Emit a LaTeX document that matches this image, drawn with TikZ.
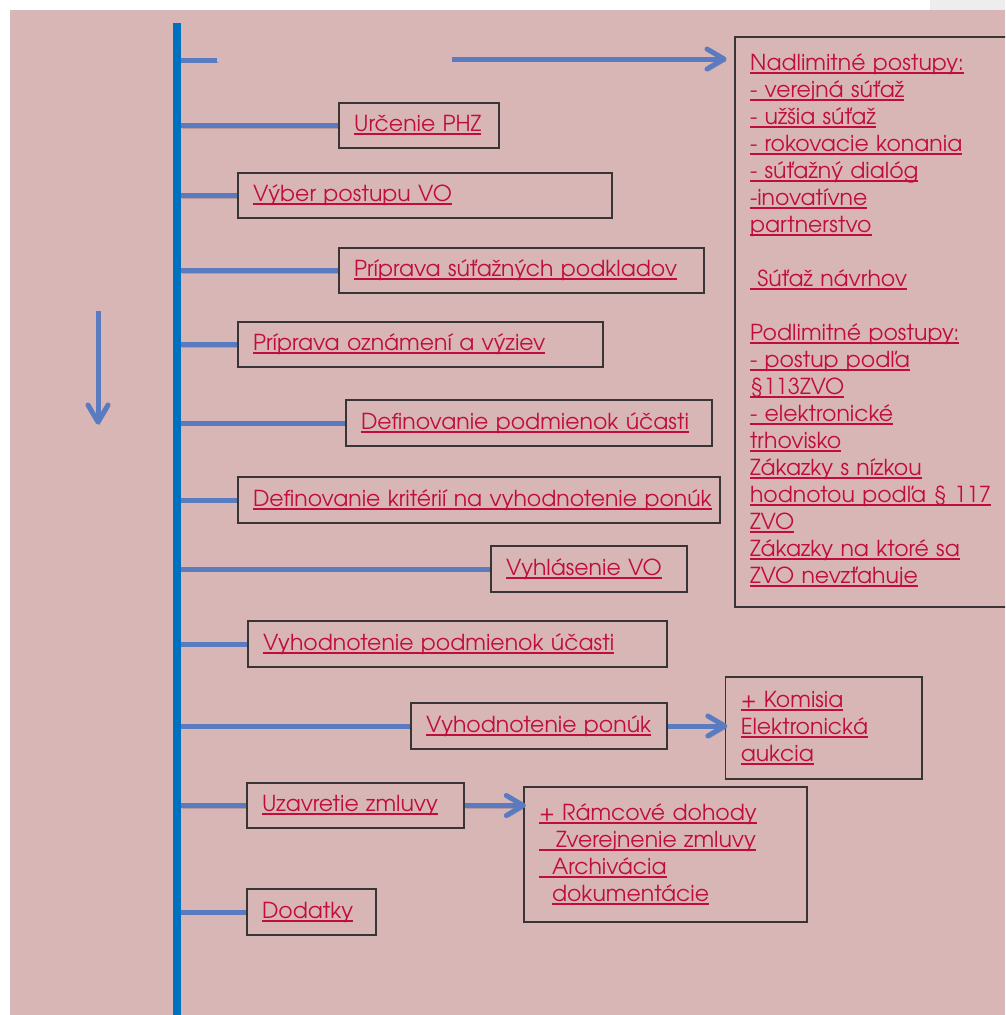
\documentclass[tikz,border=0pt]{standalone}
\usepackage{fontspec}
\setmainfont{TeX Gyre Adventor}
\definecolor{bgpink}{HTML}{D9B6B6}
\definecolor{spineblue}{HTML}{0070C0}
\definecolor{branchblue}{HTML}{5A7BBF}
\definecolor{txtred}{HTML}{C00D3E}
\definecolor{boxline}{HTML}{3A3535}
\newsavebox\ulinebox
\newcommand\ulin[1]{\leavevmode\sbox\ulinebox{#1}\rlap{\rule[-3.5pt]{\wd\ulinebox}{2pt}}\usebox\ulinebox}
\begin{document}
\begin{tikzpicture}[x=1pt,y=-1pt,
  box/.style={draw=boxline, line width=1.3pt, inner xsep=15pt, inner ysep=0pt, align=left,
    text=txtred, font=\fontsize{22}{27}\selectfont},
  shadowed/.style={preaction={draw=black, draw opacity=0.15, transform canvas={shift={(1.5pt,-2.5pt)}}}},
  branch/.style={draw=branchblue, line width=5pt, shadowed},
  chev/.style={draw=branchblue, line width=5pt, line join=round, line cap=round, shadowed}]
\clip (0,0) rectangle (1005,1015);
\fill[white] (0,0) rectangle (1005,1015);
\fill[black!7] (930,0) rectangle (1005,13);
\fill[bgpink] (10,10) rectangle (1005,1015);
% spine
\coordinate (sp1) at (176.5,23);
\coordinate (sp2) at (176.5,1015);
\draw[spineblue, line width=8pt] (sp1) -- (sp2);
% boxes
\node[box, minimum width=160pt, minimum height=45pt, text width=130pt] (A) at (419,125.5) {\ulin{Určenie PHZ}};
\node[box, minimum width=374pt, minimum height=45pt, text width=344pt] (B) at (425,195.5) {\ulin{Výber postupu VO}};
\node[box, minimum width=365pt, minimum height=45pt, text width=335pt] (C) at (521.5,270.5) {\ulin{Príprava súťažných podkladov}};
\node[box, minimum width=365pt, minimum height=45pt, text width=335pt] (D) at (420.5,344.5) {\ulin{Príprava oznámení a výziev}};
\node[box, minimum width=366pt, minimum height=46pt, text width=336pt] (E) at (529,423) {\ulin{Definovanie podmienok účasti}};
\node[box, minimum width=482pt, minimum height=46pt, text width=452pt] (F) at (479,500) {\ulin{Definovanie kritérií na vyhodnotenie ponúk}};
\node[box, minimum width=196pt, minimum height=46pt, text width=166pt] (G) at (589,569) {\ulin{Vyhlásenie VO}};
\node[box, minimum width=419pt, minimum height=46pt, text width=389pt] (H) at (457.5,644) {\ulin{Vyhodnotenie podmienok účasti}};
\node[box, minimum width=256pt, minimum height=46pt, text width=226pt] (I) at (539,726) {\ulin{Vyhodnotenie ponúk}};
\node[box, minimum width=217pt, minimum height=45pt, text width=187pt] (J) at (355.5,805.5) {\ulin{Uzavretie zmluvy}};
\node[box, minimum width=129pt, minimum height=46pt, text width=99pt] (K) at (311.5,912) {\ulin{Dodatky}};
\node[box, minimum width=275pt, minimum height=570pt, text width=245pt] (L) at (872.5,322) {%
\ulin{Nadlimitné postupy:}\\
\ulin{- verejná súťaž}\\
\ulin{- užšia súťaž}\\
\ulin{- rokovacie konania}\\
\ulin{- súťažný dialóg}\\
\ulin{-inovatívne}\\
\ulin{partnerstvo}\\
\mbox{}\\
\ulin{\ Súťaž návrhov}\\
\mbox{}\\
\ulin{Podlimitné postupy:}\\
\ulin{- postup podľa}\\
\ulin{§113ZVO}\\
\ulin{- elektronické}\\
\ulin{trhovisko}\\
\ulin{Zákazky s nízkou}\\
\ulin{hodnotou podľa § 117}\\
\ulin{ZVO}\\
\ulin{Zákazky na ktoré sa}\\
\ulin{ZVO nevzťahuje}\\[-20pt]\mbox{}};
\node[box, minimum width=196.5pt, minimum height=102pt, text width=166pt] (M) at (823.75,728) {%
\ulin{+ Komisia}\\
\ulin{Elektronická}\\
\ulin{aukcia}};
\node[box, minimum width=283pt, minimum height=135pt, text width=253pt] (N) at (665.5,854.5) {%
\ulin{+ Rámcové dohody}\\
\ulin{\hspace*{17pt}Zverejnenie zmluvy}\\
\ulin{\hspace*{13pt}Archivácia}\\
\hspace*{13pt}\ulin{dokumentácie}};
% branches
\foreach \n in {A,B,C,D,E,F,G,H,I,J,K}{
  \draw[branch] (\n.west -| sp1) ++(4pt,0) -- (\n.west);
}
% top branch and arrow
\coordinate (t0) at (217,60);
\coordinate (t1) at (452,59);
\coordinate (t2) at (724,59);
\draw[branch] (t0 -| sp1) ++(4pt,0) -- (t0);
\draw[branch] (t1) -- (t2);
\draw[chev] (t2) ++(-17,-10) -- (t2) -- ++(-17,10);
% side arrows
\coordinate (im) at (I.east -| M.west);
\draw[branch] (I.east) -- (im);
\draw[chev] (im) ++(-17,-10) -- (im) -- ++(-17,10);
\coordinate (jn) at (J.east -| N.west);
\draw[branch] (J.east) -- (jn);
\draw[chev] (jn) ++(-17,-10) -- (jn) -- ++(-17,10);
% down arrow
\coordinate (d1) at (98,311);
\coordinate (d2) at (98,422);
\draw[branch] (d1) -- (d2);
\draw[chev] (d2) ++(-10,-17) -- (d2) -- ++(10,-17);
\end{tikzpicture}
\end{document}
